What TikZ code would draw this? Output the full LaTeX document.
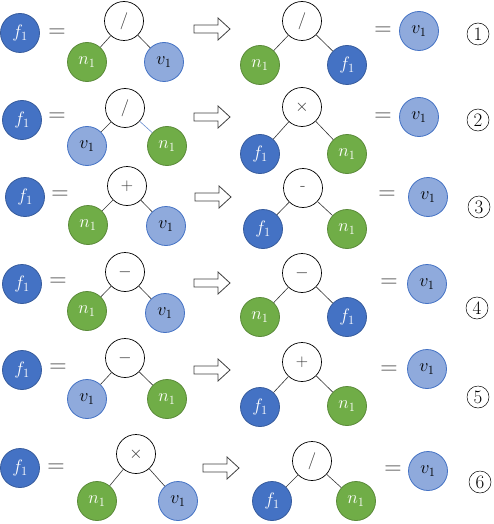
\RequirePackage{fix-cm}
\documentclass[tikz,border=0pt]{standalone}
\usepackage{amsmath,amssymb}
\usepackage{tikz}
\usetikzlibrary{calc,positioning}
\definecolor{fblue}{RGB}{68,114,196}
\definecolor{vblue}{RGB}{143,170,220}
\definecolor{ngreen}{RGB}{112,173,71}
\tikzset{
  tnode/.style ={circle, minimum size=39pt, inner sep=0pt, line width=0.8pt,
                 font=\fontsize{18}{20}\selectfont},
  fnode/.style ={tnode, draw=fblue!80!black, fill=fblue, text=white},
  nnode/.style ={tnode, draw=ngreen!80!black, fill=ngreen, text=white},
  vnode/.style ={tnode, draw=fblue, fill=vblue, text=black},
  opnode/.style={tnode, draw=black, fill=white, line width=0.7pt,
                 font=\fontsize{17}{19}\selectfont, text=black!80},
  eqsign/.style={inner sep=0pt, font=\fontsize{24}{26}\selectfont, text=black!70},
  branch/.style={line width=0.6pt, black!80},
  branchb/.style={line width=0.6pt, fblue!80},
  blockarrow/.style={line width=0.8pt, draw=black!75, fill=white, line join=miter},
  stepno/.style={circle, draw=black, line width=0.5pt, minimum size=22pt, inner sep=0pt,
                 font=\fontsize{19}{21}\selectfont},
}
\begin{document}
\begin{tikzpicture}[x=1pt, y=-1pt]
  \useasboundingbox (0,0) rectangle (494,524);
  % row 1
  \node[fnode]  (fA)  at (20,33)   {$f_1$};
  \node[opnode] (rA)  at (124,21)  {$/$};
  \node[nnode]  (lA)  at (87,62)   {$n_1$};
  \node[vnode]  (kA)  at (164,62)  {$v_1$};
  \node[opnode] (sA)  at (302,21)  {$/$};
  \node[nnode]  (pA)  at (260,65)  {$n_1$};
  \node[fnode]  (qA)  at (347,65)  {$f_1$};
  \node[vnode]  (vA)  at (419,31)  {$v_1$};
  % row 2
  \node[fnode]  (fB)  at (22,120)  {$f_1$};
  \node[opnode] (rB)  at (125,108) {$/$};
  \node[vnode]  (lB)  at (87,146)  {$v_1$};
  \node[nnode]  (kB)  at (167,146) {$n_1$};
  \node[opnode] (sB)  at (302,107) {$\times$};
  \node[fnode]  (pB)  at (260,154) {$f_1$};
  \node[nnode]  (qB)  at (347,154) {$n_1$};
  \node[vnode]  (vB)  at (419,117) {$v_1$};
  % row 3
  \node[fnode]  (fC)  at (25,197)  {$f_1$};
  \node[opnode] (rC)  at (127,186) {$+$};
  \node[nnode]  (lC)  at (88,225)  {$n_1$};
  \node[vnode]  (kC)  at (166,226) {$v_1$};
  \node[opnode] (sC)  at (303,188) {-};
  \node[fnode]  (pC)  at (263,229) {$f_1$};
  \node[nnode]  (qC)  at (347,229) {$n_1$};
  \node[vnode]  (vC)  at (428,197) {$v_1$};
  % row 4
  \node[fnode]  (fD)  at (22,284)  {$f_1$};
  \node[opnode] (rD)  at (125,272) {$-$};
  \node[nnode]  (lD)  at (87,311)  {$n_1$};
  \node[vnode]  (kD)  at (165,313) {$v_1$};
  \node[opnode] (sD)  at (302,273) {$-$};
  \node[nnode]  (pD)  at (260,317) {$n_1$};
  \node[fnode]  (qD)  at (347,317) {$f_1$};
  \node[vnode]  (vD)  at (427,284) {$v_1$};
  % row 5
  \node[fnode]  (fE)  at (22,370)  {$f_1$};
  \node[opnode] (rE)  at (125,358) {$-$};
  \node[vnode]  (lE)  at (87,399)  {$v_1$};
  \node[nnode]  (kE)  at (167,399) {$n_1$};
  \node[opnode] (sE)  at (302,362) {$+$};
  \node[fnode]  (pE)  at (260,407) {$f_1$};
  \node[nnode]  (qE)  at (347,406) {$n_1$};
  \node[vnode]  (vE)  at (427,369) {$v_1$};
  % row 6
  \node[fnode]  (fF)  at (20,468)  {$f_1$};
  \node[opnode] (rF)  at (136,454) {$\times$};
  \node[nnode]  (lF)  at (97,501)  {$n_1$};
  \node[vnode]  (kF)  at (178,501) {$v_1$};
  \node[opnode] (sF)  at (312,461) {$/$};
  \node[fnode]  (pF)  at (272,501) {$f_1$};
  \node[nnode]  (qF)  at (356,501) {$n_1$};
  \node[vnode]  (vF)  at (428,471) {$v_1$};
  % branches
  \foreach \r in {A,B,C,D,E,F} {
    \draw[branch] (r\r) -- (l\r);
    \draw[branch] (s\r) -- (p\r);
    \draw[branch] (s\r) -- (q\r);
  }
  \foreach \r in {A,C,D,E,F} {\draw[branch] (r\r) -- (k\r);}
  \draw[branchb] (rB) -- (kB);
  % equal signs, arrows, step numbers
  \foreach \xa/\xb/\ya/\yb/\yn/\xn [count=\i] in
      {57/383/33/31/34/478, 57/383/117/117/120/478, 60/387/195/195/207/479,
       58/389/282/283/308/477, 58/389/368/370/397/478, 56/393/468/470/482/480} {
    \node[eqsign] (eqa\i) at (\xa,\ya) {=};
    \node[eqsign] (eqb\i) at (\xb,\yb) {=};
    \node[stepno] (no\i) at (\xn,\yn) {\i};
  }
  \foreach \x/\y [count=\i] in {194/29,194/117,195/197,194/283,194/370,203/468} {
    \coordinate (arr\i) at (\x,\y);
    \draw[blockarrow] (arr\i) ++(0,-4) -- ++(24,0) -- ++(0,-7) -- ++(12,11)
      -- ++(-12,11) -- ++(0,-7) -- ++(-24,0) -- cycle;
  }
\end{tikzpicture}
\end{document}
